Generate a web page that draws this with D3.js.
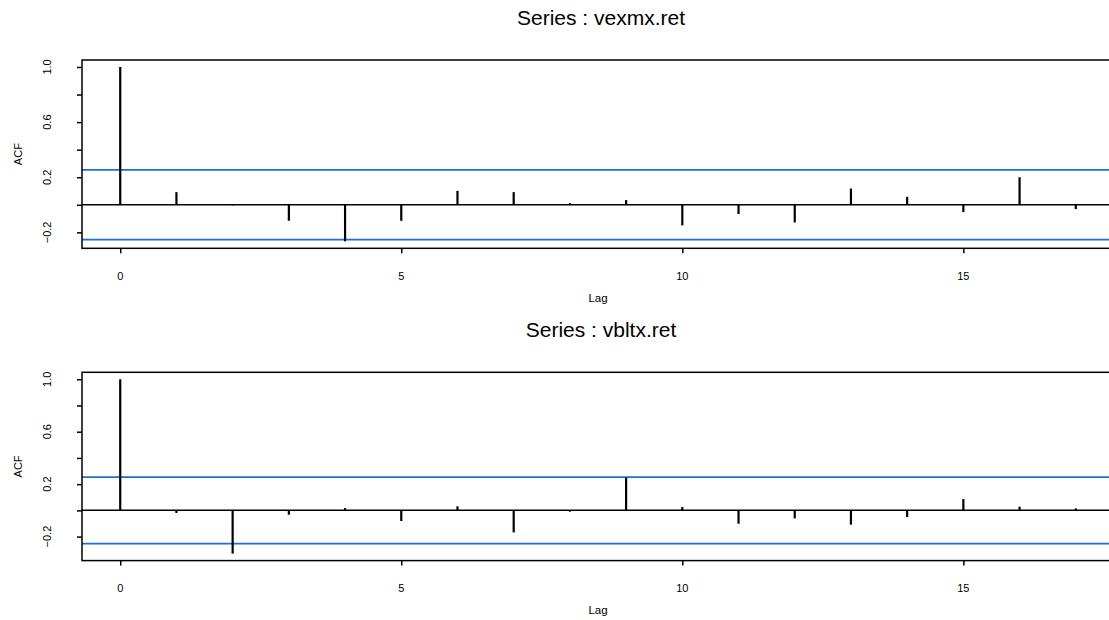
<!DOCTYPE html>
<html>
<head>
<meta charset="utf-8">
<script src="https://cdn.jsdelivr.net/npm/d3@7"></script>
<style>
  body { margin: 0; background: #fff; }
  text { font-family: "Liberation Sans", Arial, Helvetica, sans-serif; fill: #000; }
</style>
</head>
<body>
<div id="chart"></div>
<script>
// Lags and autocorrelations
const lags = [0, 1, 2, 3, 4, 5, 6, 7, 8, 9, 10, 11, 12, 13, 14, 15, 16, 17];
const vexmxAcf = [1.0, 0.092, -0.004, -0.116, -0.265, -0.116, 0.101, 0.092, 0.012, 0.034,
                  -0.149, -0.067, -0.128, 0.118, 0.058, -0.053, 0.2, -0.031];
const vbltxAcf = [1.0, -0.02, -0.33, -0.033, 0.018, -0.081, 0.031, -0.168, -0.01, 0.25,
                  0.025, -0.102, -0.061, -0.109, -0.051, 0.086, 0.028, 0.015];
const titles = ["Series : vexmx.ret", "Series : vbltx.ret"];
const ci = 0.253; // 1.96 / sqrt(60)
const xTicks = [0, 5, 10, 15];
const yTicks = [-0.2, 0, 0.2, 0.4, 0.6, 0.8, 1.0];
const yLabels = [-0.2, 0.2, 0.6, 1.0];

const W = 1109, H = 620;
const svg = d3.select("#chart").append("svg")
    .attr("width", W)
    .attr("height", H);

const left = 82, right = 1114;
const panelTops = [60, 372.3];
const panelH = 188.3;

const x = d3.scaleLinear()
    .domain([-0.68, 17.68])
    .range([left, right]);

function drawPanel(vals, title, top) {
  const bottom = top + panelH;
  const lo = Math.min(d3.min(vals), -ci), hi = Math.max(d3.max(vals), ci);
  const pad = (hi - lo) * 0.04;
  const y = d3.scaleLinear()
      .domain([lo - pad, hi + pad])
      .range([bottom, top]);

  const g = svg.append("g");

  // blue confidence lines
  [ci, -ci].forEach(c => {
    g.append("line")
        .attr("x1", left).attr("x2", right)
        .attr("y1", y(c)).attr("y2", y(c))
        .attr("stroke", "#1d6fd2")
        .attr("stroke-width", 1.8);
  });

  // zero line
  g.append("line")
      .attr("x1", left).attr("x2", right)
      .attr("y1", y(0)).attr("y2", y(0))
      .attr("stroke", "#000")
      .attr("stroke-width", 1.5);

  // acf bars
  g.selectAll(".bar")
      .data(lags.map((l, i) => ({ lag: l, v: vals[i] })))
      .enter()
      .append("line")
      .attr("x1", d => x(d.lag)).attr("x2", d => x(d.lag))
      .attr("y1", y(0)).attr("y2", d => y(d.v))
      .attr("stroke", "#000")
      .attr("stroke-width", 2.2);

  // box
  g.append("rect")
      .attr("x", left).attr("y", top)
      .attr("width", right - left).attr("height", panelH)
      .attr("fill", "none")
      .attr("stroke", "#000")
      .attr("stroke-width", 1.5);

  // y axis
  const yAxis = g.append("g")
      .attr("transform", "translate(" + left + ",0)")
      .call(d3.axisLeft(y).tickValues(yTicks).tickSize(5).tickFormat(""));
  yAxis.select(".domain").remove();
  yAxis.selectAll("line").attr("stroke-width", 1.5);

  g.selectAll(".ylab")
      .data(yLabels)
      .enter()
      .append("text")
      .attr("transform", d => "translate(51," + y(d) + ") rotate(-90)")
      .attr("text-anchor", "middle")
      .style("font-size", "11px")
      .text(d => d3.format(".1f")(d));

  g.append("text")
      .attr("transform", "translate(22," + (top + panelH / 2) + ") rotate(-90)")
      .attr("text-anchor", "middle")
      .style("font-size", "11px")
      .text("ACF");

  // x axis
  const xAxis = g.append("g")
      .attr("transform", "translate(0," + bottom + ")")
      .call(d3.axisBottom(x).tickValues(xTicks).tickSize(5).tickFormat(""));
  xAxis.select(".domain").remove();
  xAxis.selectAll("line").attr("stroke-width", 1.5);

  g.selectAll(".xlab")
      .data(xTicks)
      .enter()
      .append("text")
      .attr("x", d => x(d))
      .attr("y", bottom + 31.7)
      .attr("text-anchor", "middle")
      .style("font-size", "11px")
      .text(d => d);

  g.append("text")
      .attr("x", (left + right) / 2)
      .attr("y", bottom + 53.4)
      .attr("text-anchor", "middle")
      .style("font-size", "11.5px")
      .text("Lag");

  g.append("text")
      .attr("x", (left + right) / 2 + 3)
      .attr("y", top - 35)
      .attr("text-anchor", "middle")
      .style("font-size", "21px")
      .text(title);
}

drawPanel(vexmxAcf, titles[0], panelTops[0]);
drawPanel(vbltxAcf, titles[1], panelTops[1]);
</script>
</body>
</html>
